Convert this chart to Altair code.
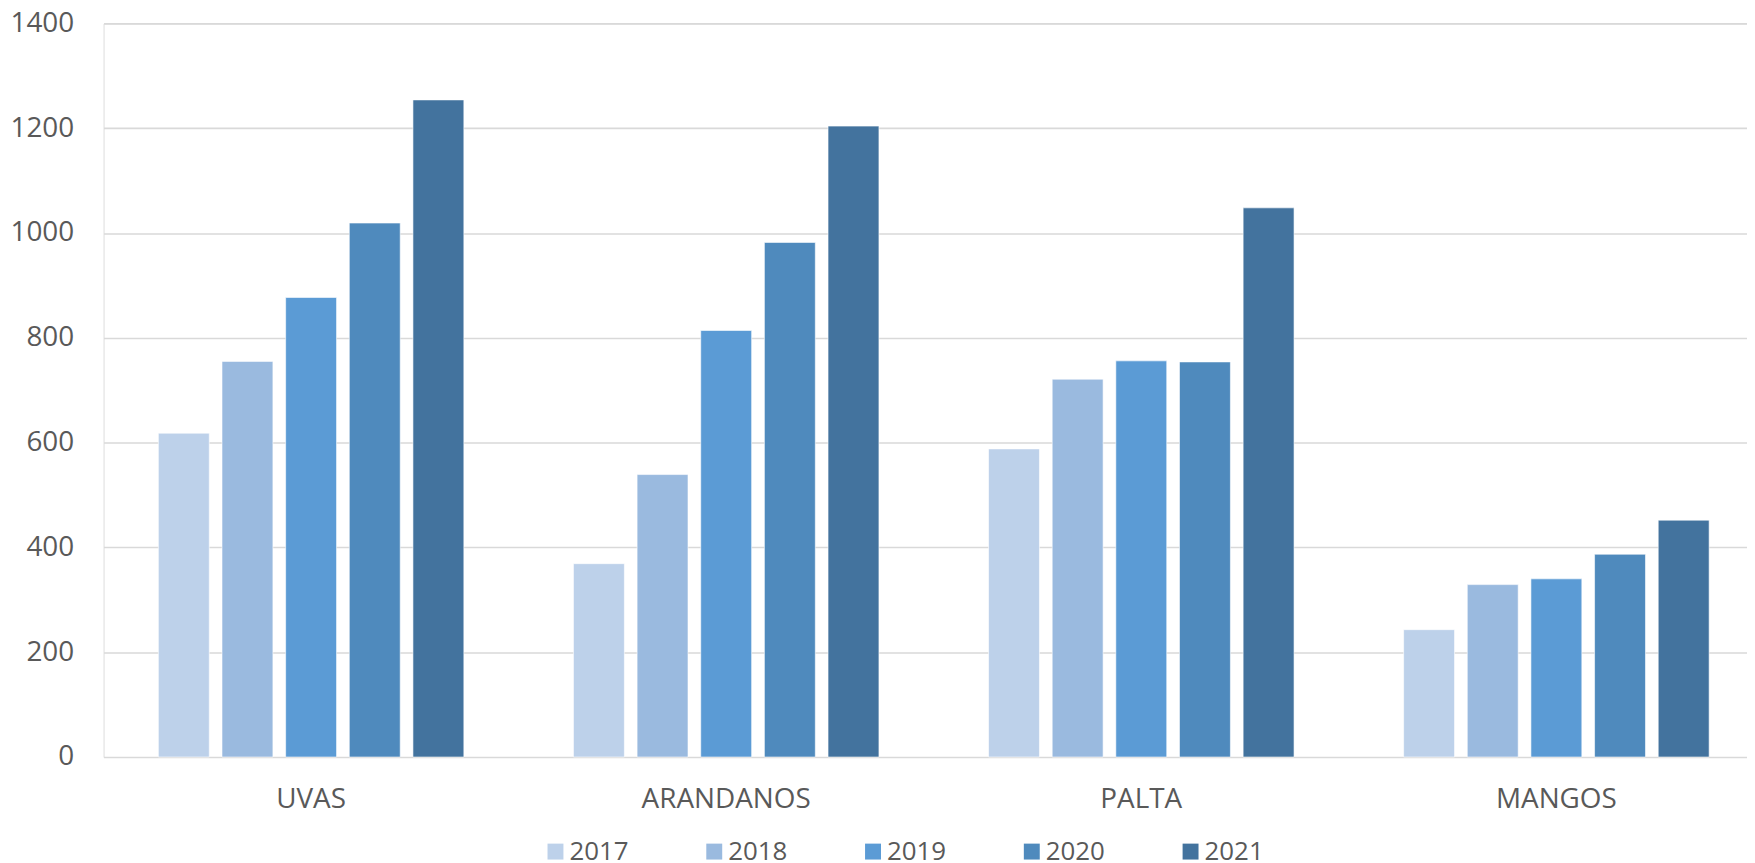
import altair as alt
import pandas as pd

categories = ["UVAS", "ARANDANOS", "PALTA", "MANGOS"]
years = ["2017", "2018", "2019", "2020", "2021"]
values = {
    "2017": [618, 369, 588, 243],
    "2018": [755, 539, 721, 329],
    "2019": [877, 814, 756, 340],
    "2020": [1019, 982, 754, 387],
    "2021": [1254, 1204, 1048, 452],
}
colors = ["#BDD1EA", "#9ABADF", "#5B9BD5", "#4F8ABD", "#43739E"]
y_ticks = [0, 200, 400, 600, 800, 1000, 1200, 1400]

rows = []
for yr in years:
    for cat, v in zip(categories, values[yr]):
        rows.append({"fruta": cat, "anio": yr, "valor": v})
df = pd.DataFrame(rows)

FONT = "Open Sans"
TXT = "#595959"

chart = alt.Chart(df).mark_bar(stroke="#FFFFFF", strokeWidth=1, strokeOpacity=0.6).encode(
    x=alt.X("fruta:N", sort=categories, title=None,
            scale=alt.Scale(range=[0, 1668], paddingInner=0.264, paddingOuter=0.132),
            axis=alt.Axis(labelAngle=0, labelFont=FONT, labelFontSize=28, labelColor=TXT,
                          labelPadding=29, ticks=False, domain=False, grid=False)),
    xOffset=alt.XOffset("anio:N", sort=years, scale=alt.Scale(paddingInner=0.2, paddingOuter=0)),
    y=alt.Y("valor:Q", title=None,
            scale=alt.Scale(domain=[0, 1400], nice=False),
            axis=alt.Axis(values=y_ticks, format="d", labelFont=FONT, labelFontSize=28,
                          labelColor=TXT, labelPadding=30, ticks=False, domain=False,
                          grid=True, gridColor="#D9D9D9", gridWidth=1.6)),
    color=alt.Color("anio:N", sort=years, title=None,
                    scale=alt.Scale(domain=years, range=colors),
                    legend=alt.Legend(orient="none", legendX=441, legendY=819,
                                      direction="horizontal", symbolType="square",
                                      symbolSize=256, symbolStrokeWidth=0,
                                      labelFont=FONT, labelFontSize=26, labelColor=TXT,
                                      labelOffset=1, columnPadding=72.5, padding=0)),
).properties(
    width=1651,
    height=737,
    autosize=alt.AutoSizeParams(type="none"),
    padding={"left": 96, "top": 13.5, "right": 0, "bottom": 104.5},
).configure_view(stroke=None).configure(background="#FFFFFF")

chart.save("out.html", embed_options={"renderer": "svg", "actions": False})
